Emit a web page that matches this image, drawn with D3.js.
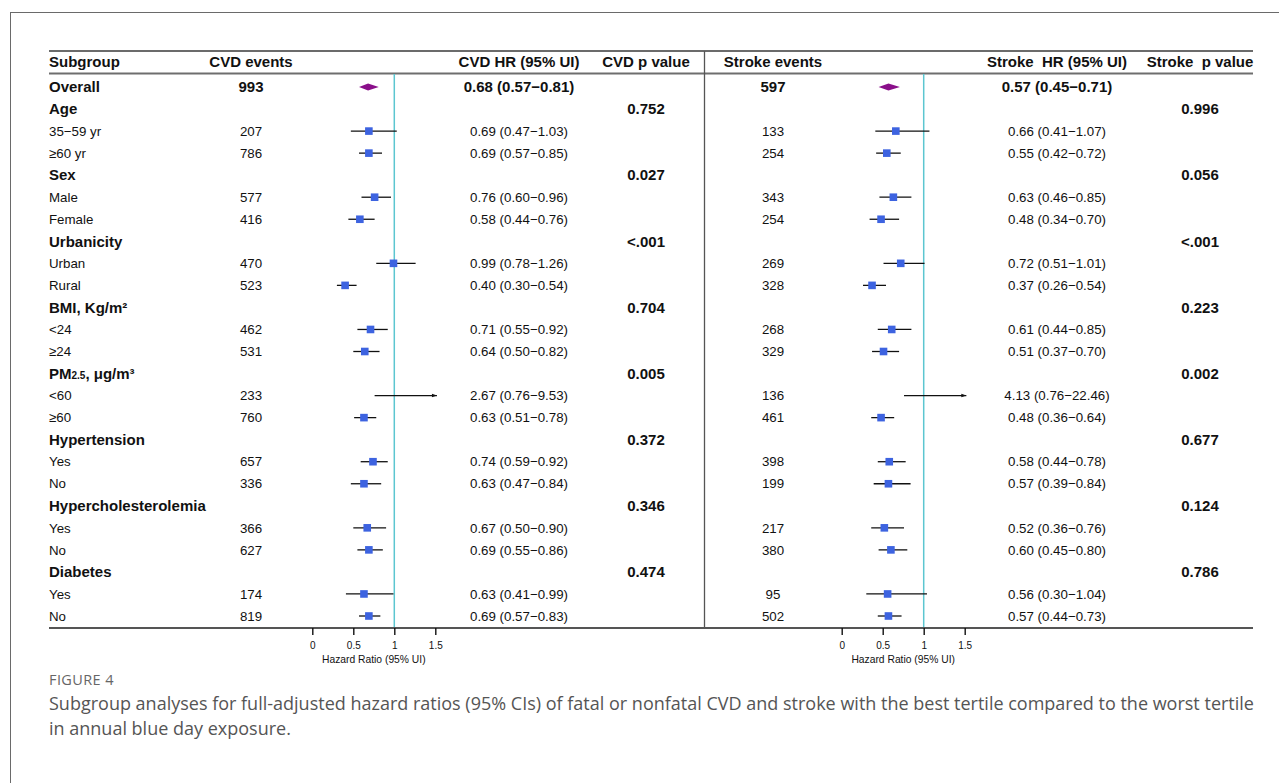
<!DOCTYPE html>
<html><head><meta charset="utf-8">
<script src="https://cdn.jsdelivr.net/npm/d3@7"></script>
<style>
html,body{margin:0;padding:0;background:#fff;}
svg{display:block;}
</style></head>
<body>
<svg id="chart" width="1279" height="783"></svg>
<script>
// ---------------- DATA ----------------
const subgroups = ["Overall","Age","35−59 yr","≥60 yr","Sex","Male","Female","Urbanicity","Urban","Rural",
  "BMI, Kg/m²","<24","≥24","PM2.5","<60","≥60","Hypertension","Yes","No","Hypercholesterolemia","Yes","No","Diabetes","Yes","No"];
const rowTypes = ["overall","group","item","item","group","item","item","group","item","item",
  "group","item","item","group","item","item","group","item","item","group","item","item","group","item","item"];
const cvdEvents = [993,null,207,786,null,577,416,null,470,523,null,462,531,null,233,760,null,657,336,null,366,627,null,174,819];
const cvdHR  = [0.68,null,0.69,0.69,null,0.76,0.58,null,0.99,0.40,null,0.71,0.64,null,2.67,0.63,null,0.74,0.63,null,0.67,0.69,null,0.63,0.69];
const cvdLo  = [0.57,null,0.47,0.57,null,0.60,0.44,null,0.78,0.30,null,0.55,0.50,null,0.76,0.51,null,0.59,0.47,null,0.50,0.55,null,0.41,0.57];
const cvdHi  = [0.81,null,1.03,0.85,null,0.96,0.76,null,1.26,0.54,null,0.92,0.82,null,9.53,0.78,null,0.92,0.84,null,0.90,0.86,null,0.99,0.83];
const cvdP   = [null,"0.752",null,null,"0.027",null,null,"<.001",null,null,"0.704",null,null,"0.005",null,null,"0.372",null,null,"0.346",null,null,"0.474",null,null];
const strokeEvents = [597,null,133,254,null,343,254,null,269,328,null,268,329,null,136,461,null,398,199,null,217,380,null,95,502];
const strokeHR = [0.57,null,0.66,0.55,null,0.63,0.48,null,0.72,0.37,null,0.61,0.51,null,4.13,0.48,null,0.58,0.57,null,0.52,0.60,null,0.56,0.57];
const strokeLo = [0.45,null,0.41,0.42,null,0.46,0.34,null,0.51,0.26,null,0.44,0.37,null,0.76,0.36,null,0.44,0.39,null,0.36,0.45,null,0.30,0.44];
const strokeHi = [0.71,null,1.07,0.72,null,0.85,0.70,null,1.01,0.54,null,0.85,0.70,null,22.46,0.64,null,0.78,0.84,null,0.76,0.80,null,1.04,0.73];
const strokeP  = [null,"0.996",null,null,"0.056",null,null,"<.001",null,null,"0.223",null,null,"0.002",null,null,"0.677",null,null,"0.124",null,null,"0.786",null,null];
const tickValues = [0, 0.5, 1, 1.5];
const tickLabels = ["0","0.5","1","1.5"];
const axisTitle = "Hazard Ratio (95% UI)";
const headersLeft = ["Subgroup","CVD events","CVD HR (95% UI)","CVD p value"];
const headersRight = ["Stroke events","Stroke  HR (95% UI)","Stroke  p value"];
const figLabel = "FIGURE 4";
const captionLines = ["Subgroup analyses for full-adjusted hazard ratios (95% CIs) of fatal or nonfatal CVD and stroke with the best tertile compared to the worst tertile",
  "in annual blue day exposure."];

// ---------------- LAYOUT ----------------
const svg = d3.select("#chart");
const FONT = "'Liberation Sans', Arial, Helvetica, sans-serif";
const CAPFONT = "'Open Sans', 'Noto Sans', sans-serif";
const idx = d3.range(subgroups.length);
const y = d3.scalePoint().domain(idx).range([87, 616]);
const xL = d3.scaleLinear().domain([0, 1.5]).range([312.3, 435.3]);
const xR = d3.scaleLinear().domain([0, 1.5]).range([841.7, 964.7]);
const clipMax = 1.52;
const fmt = d3.format(".2f");
const hrText = (h,l,u) => `${fmt(h)} (${fmt(l)}−${fmt(u)})`;

// outer frame
svg.append("line").attr("x1",10.5).attr("x2",10.5).attr("y1",12).attr("y2",783).attr("stroke","#6a6a6a").attr("stroke-width",1);
svg.append("line").attr("x1",10).attr("x2",1279).attr("y1",12.5).attr("y2",12.5).attr("stroke","#6a6a6a").attr("stroke-width",1);

// rules
svg.append("line").attr("x1",49).attr("x2",1253).attr("y1",51).attr("y2",51).attr("stroke","#3a3a3a").attr("stroke-width",1.6);
svg.append("line").attr("x1",49).attr("x2",1253).attr("y1",73.5).attr("y2",73.5).attr("stroke","#6e6e6e").attr("stroke-width",2);
svg.append("line").attr("x1",49).attr("x2",1253).attr("y1",628).attr("y2",628).attr("stroke","#555").attr("stroke-width",2);
svg.append("line").attr("x1",704.5).attr("x2",704.5).attr("y1",51).attr("y2",628).attr("stroke","#555").attr("stroke-width",1.3);

// reference lines
[xL, xR].forEach(xs => {
  svg.append("line").attr("x1",xs(1)).attr("x2",xs(1)).attr("y1",74).attr("y2",627)
    .attr("stroke","#5cc6d0").attr("stroke-width",1.5);
});

// headers
const hy = 67;
const hdr = (t,x,anchor) => svg.append("text").attr("x",x).attr("y",hy).attr("text-anchor",anchor)
  .attr("font-family",FONT).attr("font-weight","bold").attr("font-size",15).attr("fill","#111").style("white-space","pre").text(t);
hdr(headersLeft[0],49,"start");
hdr(headersLeft[1],251,"middle");
hdr(headersLeft[2],519,"middle");
hdr(headersLeft[3],646,"middle");
hdr(headersRight[0],773,"middle");
hdr(headersRight[1],1057,"middle");
hdr(headersRight[2],1200,"middle");

// rows
const g = svg.append("g").attr("font-family",FONT).attr("fill","#111");
idx.forEach(i => {
  const t = rowTypes[i];
  const bold = t !== "item";
  const fs = bold ? 15 : 13.3;
  const yy = y(i) + (bold ? 5.3 : 4.7);
  const txt = (s,x,anchor,b,size) => g.append("text").attr("x",x).attr("y",yy).attr("text-anchor",anchor)
    .attr("font-weight",b?"bold":"normal").attr("font-size",size).text(s);
  if (subgroups[i] === "PM2.5") {
    const te = g.append("text").attr("x",49).attr("y",yy).attr("font-weight","bold").attr("font-size",15);
    te.append("tspan").text("PM");
    te.append("tspan").attr("font-size",10).text("2.5");
    te.append("tspan").text(", μg/m³");
  } else {
    txt(subgroups[i],49,"start",bold,fs);
  }
  if (cvdEvents[i] != null) txt(cvdEvents[i],251,"middle",bold,fs);
  if (cvdHR[i] != null) txt(hrText(cvdHR[i],cvdLo[i],cvdHi[i]),519,"middle",bold,fs);
  if (cvdP[i] != null) txt(cvdP[i],646,"middle",true,15);
  if (strokeEvents[i] != null) txt(strokeEvents[i],773,"middle",bold,fs);
  if (strokeHR[i] != null) txt(hrText(strokeHR[i],strokeLo[i],strokeHi[i]),1057,"middle",bold,fs);
  if (strokeP[i] != null) txt(strokeP[i],1200,"middle",true,15);
});

// arrow marker
svg.append("defs").append("marker").attr("id","arr").attr("viewBox","0 0 10 10").attr("refX",10).attr("refY",5)
  .attr("markerWidth",7).attr("markerHeight",5).attr("markerUnits","userSpaceOnUse").attr("orient","auto")
  .append("path").attr("d","M0,1.5 L10,5 L0,8.5 Z").attr("fill","#111");

// forest marks
function forest(xs, hr, lo, hi) {
  const fg = svg.append("g");
  idx.forEach(i => {
    if (hr[i] == null) return;
    const yy = y(i);
    if (rowTypes[i] === "overall") {
      const l = xs(lo[i]), r = xs(hi[i]), c = xs(hr[i]);
      fg.append("path").attr("d",`M${l},${yy} L${c},${yy-3.5} L${r},${yy} L${c},${yy+3.5} Z`).attr("fill","#8a0f8a");
      return;
    }
    const over = hi[i] > 1.5;
    const x2 = over ? xs(clipMax) : xs(hi[i]);
    const ln = fg.append("line").attr("x1",xs(lo[i])).attr("x2",x2).attr("y1",yy).attr("y2",yy)
      .attr("stroke","#111").attr("stroke-width",1.3);
    if (over) ln.attr("marker-end","url(#arr)");
    if (hr[i] <= 1.5) {
      fg.append("rect").attr("x",xs(hr[i])-3.8).attr("y",yy-3.8).attr("width",7.6).attr("height",7.6).attr("fill","#3d63e0");
    }
  });
}
forest(xL, cvdHR, cvdLo, cvdHi);
forest(xR, strokeHR, strokeLo, strokeHi);

// axes
function axis(xs) {
  const ag = svg.append("g").attr("transform","translate(0,628)")
    .call(d3.axisBottom(xs).tickValues(tickValues).tickFormat((d,k)=>tickLabels[k]).tickSize(7).tickPadding(7));
  ag.select(".domain").remove();
  ag.selectAll(".tick line").attr("stroke","#111").attr("stroke-width",1.4);
  ag.selectAll(".tick text").attr("font-family",FONT).attr("font-size",10).attr("fill","#111");
  svg.append("text").attr("x",xs(0.75)).attr("y",663).attr("text-anchor","middle").attr("font-family",FONT)
    .attr("font-size",10.3).attr("fill","#111").text(axisTitle);
}
axis(xL); axis(xR);

// caption
svg.append("text").attr("x",49).attr("y",685).attr("font-family",CAPFONT).attr("font-size",14.5)
  .attr("letter-spacing",0.4).attr("fill","#666").text(figLabel);
captionLines.forEach((t,k) => svg.append("text").attr("x",49).attr("y",710+k*25).attr("font-family",CAPFONT)
  .attr("font-size",18).attr("fill","#555").text(t));
</script>
</body></html>
